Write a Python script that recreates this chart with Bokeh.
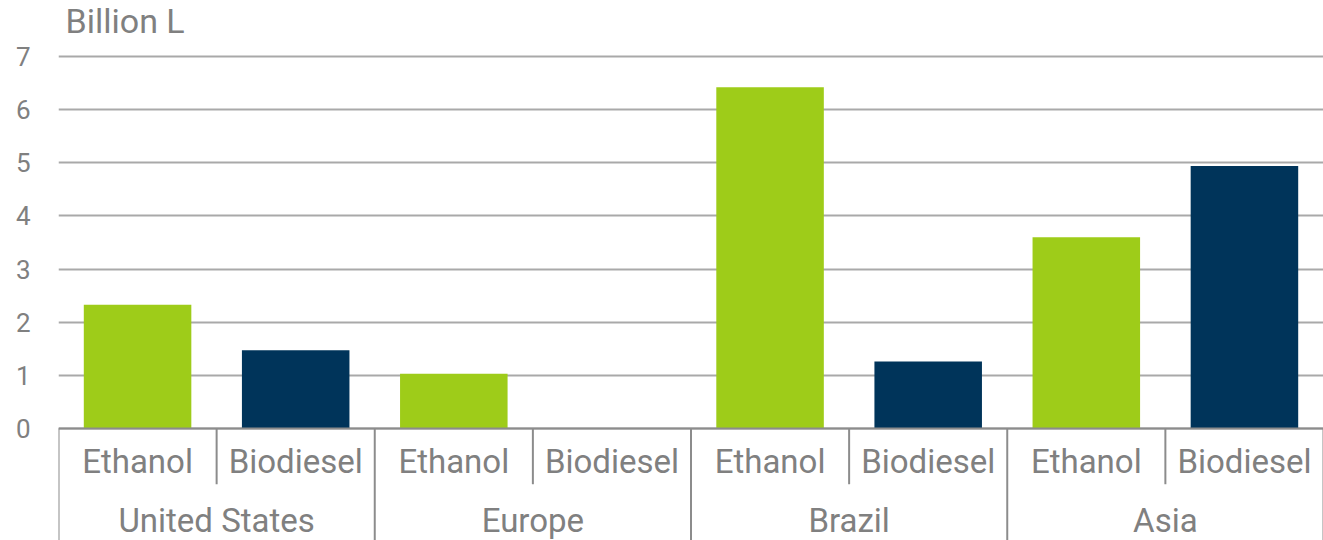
from bokeh.plotting import figure
from bokeh.models import FactorRange, FixedTicker, Range1d, Span, Label, ColumnDataSource
from bokeh.core.properties import value
from bokeh.embed import file_html
from bokeh.resources import INLINE

regions = ["United States", "Europe", "Brazil", "Asia"]
fuels = ["Ethanol", "Biodiesel"]
ethanol = [2.33, 1.03, 6.42, 3.60]
biodiesel = [1.47, 0.0, 1.26, 4.94]
fuel_colors = {"Ethanol": "#9ECC19", "Biodiesel": "#00345A"}
y_ticks = [0, 1, 2, 3, 4, 5, 6, 7]
y_title = "Billion L"

FONT = "Roboto"
TXT = "#808080"
LINE = "#8c8c8c"

factors = [(r, f) for r in regions for f in fuels]
vals = []
for i, r in enumerate(regions):
    vals += [ethanol[i], biodiesel[i]]
colors = [fuel_colors[f] for _, f in factors]

p = figure(width=1323, height=540, output_backend="svg", toolbar_location=None,
           x_range=FactorRange(*factors, range_padding=0, group_padding=0, factor_padding=0),
           y_range=Range1d(-2.109, 8.055), x_axis_location=None,
           min_border_left=58, min_border_right=0, min_border_top=0, min_border_bottom=0)
p.outline_line_color = None
p.background_fill_color = "white"

# bars
src = ColumnDataSource(dict(x=factors, top=vals, color=colors))
p.vbar(x="x", top="top", width=0.68, fill_color="color", line_color=None, source=src)

# y axis
p.yaxis.ticker = FixedTicker(ticks=y_ticks)
p.yaxis.axis_line_color = None
p.yaxis.major_tick_line_color = None
p.yaxis.minor_tick_line_color = None
p.yaxis.major_tick_out = 0
p.yaxis.major_tick_in = 0
p.yaxis.major_label_standoff = 28
p.yaxis.major_label_text_font = FONT
p.yaxis.major_label_text_font_size = "26px"
p.yaxis.major_label_text_color = TXT
p.xgrid.grid_line_color = None
p.ygrid.ticker = FixedTicker(ticks=y_ticks)
p.ygrid.grid_line_color = "#a9a9a9"
p.ygrid.grid_line_width = 2

# baseline
p.add_layout(Span(location=0, dimension="width", line_color=LINE, line_width=2))

# separators
sub_x = [(r, "Ethanol", 0.5) for r in regions]
grp_x = [(r, "Ethanol", -0.5) for r in regions] + [(regions[-1], "Biodiesel", 0.5)]
p.segment(x0=sub_x, y0=[0] * len(sub_x), x1=sub_x, y1=[-1.05] * len(sub_x),
          line_color=LINE, line_width=2)
p.segment(x0=grp_x, y0=[0] * len(grp_x), x1=grp_x, y1=[-2.3] * len(grp_x),
          line_color=LINE, line_width=2)

# category labels
p.text(x=factors, y=[-0.63] * len(factors), text=[f for _, f in factors],
       text_font=value(FONT), text_font_size="33px", text_color=TXT,
       text_align="center", text_baseline="middle")
p.text(x=regions, y=[-1.73] * len(regions), text=regions,
       text_font=value(FONT), text_font_size="33px", text_color=TXT,
       text_align="center", text_baseline="middle")

# unit title
p.add_layout(Label(x=7, x_units="screen", y=7.67, text=y_title,
                   text_font=FONT, text_font_size="34px", text_color=TXT,
                   text_baseline="middle"))

open("out.html", "w").write(file_html(p, INLINE))
